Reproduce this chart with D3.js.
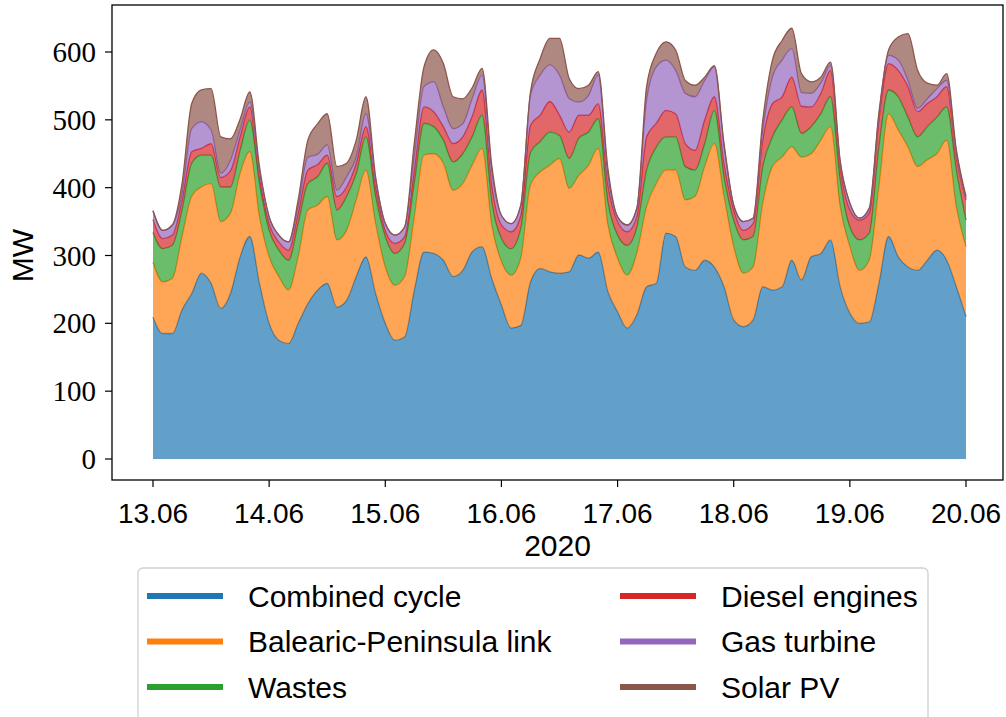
<!DOCTYPE html>
<html>
<head>
<meta charset="utf-8">
<script src="https://cdn.jsdelivr.net/npm/d3@7"></script>
<style>
  body { margin: 0; background: #fff; }
  svg { display: block; }
  .ytick text { font-family: "Liberation Serif", "DejaVu Serif", serif; font-size: 29px; }
  .xtick text { font-family: "Liberation Sans", "DejaVu Sans", sans-serif; font-size: 28px; }
  .label { font-family: "Liberation Sans", "DejaVu Sans", sans-serif; font-size: 30px; }
  .legend text { font-family: "Liberation Sans", "DejaVu Sans", sans-serif; font-size: 30px; }
</style>
</head>
<body>
<div id="chart"></div>
<script>
const width = 1006;
const height = 717;

// 2-hourly samples from 13.06.2020 00:00 to 20.06.2020 00:00 (85 points), MW
const seriesNames = ["Combined cycle", "Balearic-Peninsula link", "Wastes", "Diesel engines", "Gas turbine", "Solar PV"];
const seriesColors = ["#1f77b4", "#ff7f0e", "#2ca02c", "#d62728", "#9467bd", "#8c564b"];
const startTime = Date.UTC(2020, 5, 13);
const stepHours = 2;

const combinedCycle = [
  209, 185, 185, 220, 244, 274, 259, 222, 244, 298, 328, 259,
  200, 175, 170, 200, 229, 249, 259, 224, 234, 269, 298, 244,
  200, 175, 180, 249, 305, 303, 293, 269, 278, 306, 313, 266,
  227, 193, 197, 261, 281, 276, 274, 276, 301, 296, 305, 247,
  217, 193, 213, 254, 259, 333, 328, 283, 278, 293, 283, 254,
  205, 195, 205, 254, 249, 254, 293, 264, 298, 303, 323, 254,
  215, 200, 202, 259, 328, 298, 283, 278, 293, 308, 293, 254,
  210
];
const peninsulaLink = [
  81, 76, 81, 108, 143, 127, 147, 128, 118, 123, 125, 98,
  98, 94, 79, 98, 138, 125, 128, 99, 103, 113, 128, 103,
  83, 81, 89, 108, 143, 147, 143, 127, 128, 128, 145, 79,
  64, 78, 99, 143, 142, 157, 169, 123, 117, 137, 153, 98,
  79, 78, 91, 118, 147, 93, 98, 99, 109, 138, 182, 133,
  108, 79, 78, 123, 182, 191, 167, 181, 152, 167, 167, 118,
  98, 78, 91, 142, 181, 187, 177, 153, 148, 142, 177, 118,
  103
];
const wastes = [
  44, 49, 49, 39, 49, 47, 42, 51, 39, 34, 47, 49,
  39, 39, 44, 49, 39, 42, 49, 44, 50, 39, 49, 40,
  45, 47, 49, 50, 47, 40, 34, 42, 44, 42, 49, 34,
  34, 39, 44, 48, 45, 49, 34, 44, 55, 49, 44, 34,
  34, 44, 38, 54, 54, 49, 49, 49, 39, 34, 49, 29,
  39, 49, 45, 54, 44, 55, 59, 35, 40, 39, 44, 39,
  29, 45, 40, 59, 35, 49, 44, 44, 49, 54, 49, 54,
  39
];
const dieselEngines = [
  19, 15, 15, 15, 17, 10, 17, 14, 24, 20, 19, 10,
  10, 12, 15, 15, 20, 18, 12, 20, 14, 15, 15, 14,
  9, 15, 10, 19, 24, 22, 20, 27, 25, 30, 37, 25,
  20, 25, 19, 40, 39, 45, 30, 39, 34, 25, 22, 25,
  20, 20, 16, 49, 35, 39, 34, 34, 29, 35, 20, 20,
  15, 14, 19, 39, 49, 34, 44, 40, 29, 30, 39, 20,
  25, 29, 29, 40, 39, 39, 45, 37, 34, 30, 30, 20,
  30
];
const gasTurbine = [
  13, 12, 15, 9, 34, 39, 20, 6, 15, 10, 7, 7,
  10, 10, 12, 10, 19, 15, 15, 9, 15, 9, 19, 10,
  10, 12, 14, 20, 30, 44, 29, 22, 19, 26, 22, 19,
  14, 12, 15, 44, 59, 54, 59, 49, 19, 29, 42, 14,
  7, 10, 12, 54, 83, 74, 64, 74, 79, 58, 44, 24,
  7, 13, 8, 14, 39, 54, 42, 20, 20, 15, 7, 5,
  10, 3, 5, 5, 12, 15, 9, 5, 7, 12, 9, 5,
  2
];
const solarPV = [
  0, 0, 0, 15, 37, 47, 61, 54, 32, 16, 15, 8,
  0, 0, 0, 10, 25, 45, 46, 35, 20, 25, 25, 5,
  0, 0, 0, 20, 29, 47, 64, 47, 37, 16, 10, 10,
  0, 0, 0, 5, 24, 39, 54, 30, 20, 15, 5, 10,
  0, 0, 0, 20, 20, 27, 30, 19, 17, 5, 2, 5,
  0, 0, 0, 15, 25, 29, 30, 28, 17, 9, 5, 4,
  0, 0, 3, 5, 8, 34, 69, 56, 23, 5, 10, 5,
  3
];
const yTicks = [0, 100, 200, 300, 400, 500, 600];

const seriesValues = [combinedCycle, peninsulaLink, wastes, dieselEngines, gasTurbine, solarPV];
const rows = combinedCycle.map((_, i) => {
  const row = { time: new Date(startTime + i * stepHours * 3600e3) };
  seriesNames.forEach((name, k) => { row[name] = seriesValues[k][i]; });
  return row;
});

// axes frame
const frame = { left: 112, right: 1003, top: 5, bottom: 480 };

const svg = d3.select("#chart")
    .append("svg")
    .attr("width", width)
    .attr("height", height);

const x = d3.scaleUtc()
    .domain(d3.extent(rows, d => d.time))
    .range([153, 966]);

const y = d3.scaleLinear()
    .domain([0, 600])
    .range([459, 52]);

const stacked = d3.stack().keys(seriesNames)(rows);

const area = d3.area()
    .curve(d3.curveMonotoneX)
    .x(d => x(d.data.time))
    .y0(d => y(d[0]))
    .y1(d => y(d[1]));

const topLine = d3.line()
    .curve(d3.curveMonotoneX)
    .x(d => x(d.data.time))
    .y(d => y(d[1]));

const layers = svg.append("g");
stacked.forEach((layer, i) => {
    layers.append("path")
        .datum(layer)
        .attr("d", area)
        .attr("fill", seriesColors[i])
        .attr("fill-opacity", 0.7);
    layers.append("path")
        .datum(layer)
        .attr("d", topLine)
        .attr("fill", "none")
        .attr("stroke", seriesColors[i])
        .attr("stroke-width", 1.3);
});

// frame
svg.append("rect")
    .attr("x", frame.left)
    .attr("y", frame.top)
    .attr("width", frame.right - frame.left)
    .attr("height", frame.bottom - frame.top)
    .attr("fill", "none")
    .attr("stroke", "#000")
    .attr("stroke-width", 1.3);

// y axis
const yAxis = svg.append("g").attr("class", "ytick");
yTicks.forEach(t => {
    yAxis.append("line")
        .attr("x1", frame.left - 7).attr("x2", frame.left)
        .attr("y1", y(t)).attr("y2", y(t))
        .attr("stroke", "#000").attr("stroke-width", 1.2);
    yAxis.append("text")
        .attr("x", frame.left - 16)
        .attr("y", y(t))
        .attr("dy", "0.35em")
        .attr("text-anchor", "end")
        .text(t);
});

// x axis
const xAxis = svg.append("g").attr("class", "xtick");
const dayTicks = d3.utcDay.range(x.domain()[0], d3.utcDay.offset(x.domain()[1], 1));
const fmt = d3.utcFormat("%d.%m");
dayTicks.forEach(t => {
    xAxis.append("line")
        .attr("x1", x(t)).attr("x2", x(t))
        .attr("y1", frame.bottom).attr("y2", frame.bottom + 7)
        .attr("stroke", "#000").attr("stroke-width", 1.2);
    xAxis.append("text")
        .attr("x", x(t))
        .attr("y", frame.bottom + 43)
        .attr("text-anchor", "middle")
        .text(fmt(t));
});

svg.append("text")
    .attr("class", "label")
    .attr("x", (frame.left + frame.right) / 2)
    .attr("y", 556)
    .attr("text-anchor", "middle")
    .text("2020");

svg.append("text")
    .attr("class", "label")
    .attr("transform", `translate(33, ${y(300)}) rotate(-90)`)
    .attr("text-anchor", "middle")
    .text("MW");

// legend
const legend = svg.append("g").attr("class", "legend");
legend.append("rect")
    .attr("x", 138).attr("y", 568)
    .attr("width", 790).attr("height", 170)
    .attr("rx", 5)
    .attr("fill", "#fff")
    .attr("stroke", "#d0d0d0")
    .attr("stroke-width", 1.3);

seriesNames.forEach((name, i) => {
    const col = Math.floor(i / 3);
    const row = i % 3;
    const lx = col === 0 ? 147 : 620;
    const ly = 596 + row * 45.5;
    legend.append("line")
        .attr("x1", lx).attr("x2", lx + 76)
        .attr("y1", ly).attr("y2", ly)
        .attr("stroke", seriesColors[i])
        .attr("stroke-width", 6);
    legend.append("text")
        .attr("x", lx + 101)
        .attr("y", ly)
        .attr("dy", "0.36em")
        .text(name);
});
</script>
</body>
</html>
